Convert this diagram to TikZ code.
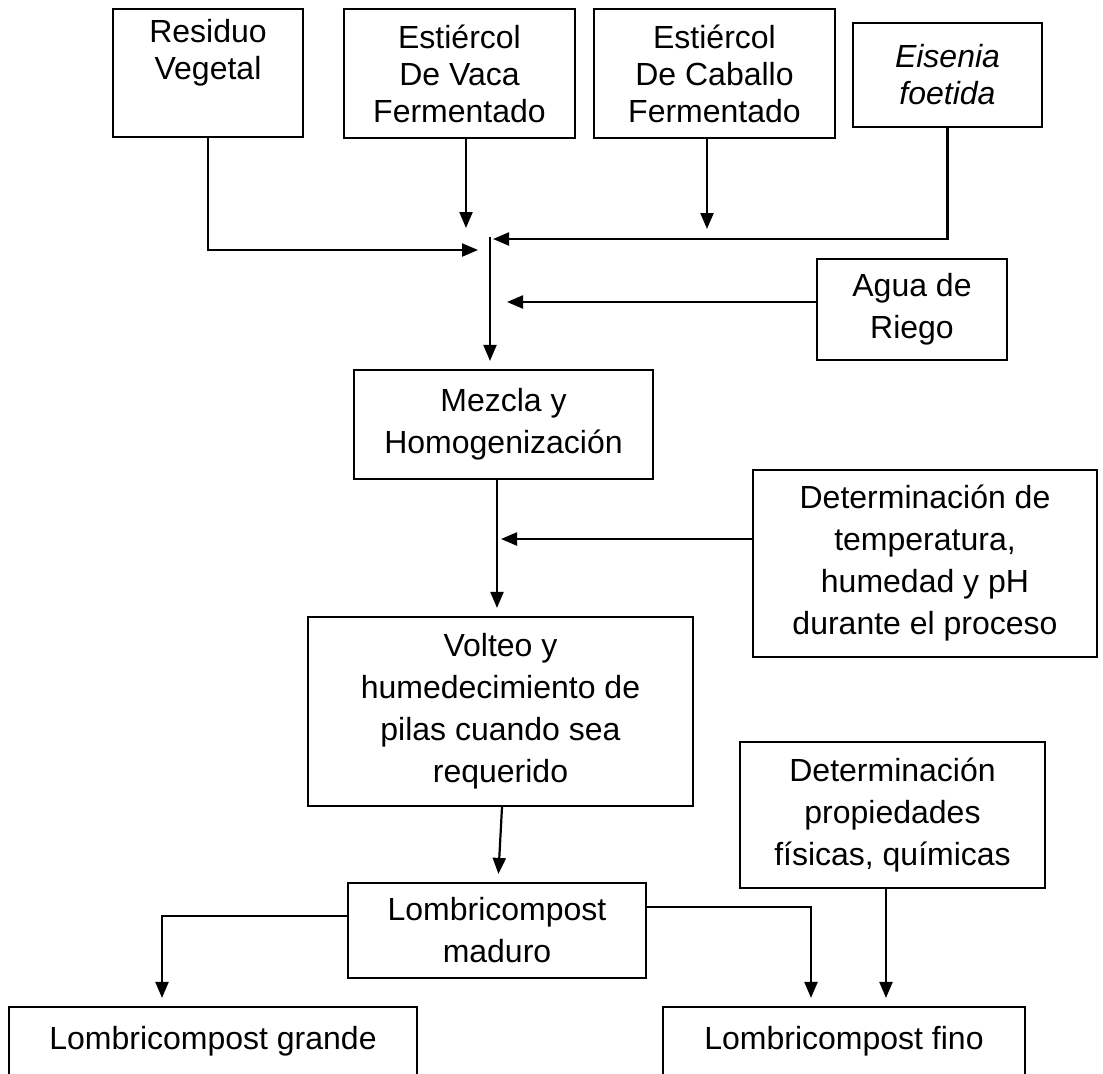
\documentclass[tikz,border=0pt]{standalone}
\usepackage{fontspec}
\setmainfont{Liberation Sans}
\usetikzlibrary{arrows.meta}
\begin{document}
\begin{tikzpicture}[x=0.5pt,y=-0.5pt,line join=miter,
  >={Triangle[length=8pt,width=6.5pt]},
  blk/.style={draw,line width=1.1pt,inner sep=0pt,align=center,
    font=\fontsize{16}{21}\selectfont},
  tight/.style={font=\fontsize{16}{18.5}\selectfont},
  conn/.style={->,line width=1.1pt,shorten >=4pt}]
  \useasboundingbox (0,0) rectangle (1103,1073);
  \clip (0,0) rectangle (1103,1073);
%%
  % Node: res
  \node[blk,tight,minimum width=95pt,minimum height=64pt] (res) at (208,73) {Residuo\\Vegetal\\\strut};
  % Node: vaca
  \node[blk,tight,minimum width=115.5pt,minimum height=64.5pt] (vaca) at (459.5,73.5) {Estiércol\\De Vaca\\Fermentado};
  % Node: cab
  \node[blk,tight,minimum width=120.5pt,minimum height=64.5pt] (cab) at (714.5,73.5) {Estiércol\\De Caballo\\Fermentado};
  % Node: eis
  \node[blk,tight,minimum width=94.5pt,minimum height=52pt] (eis) at (947.5,75) {\itshape Eisenia\\\itshape foetida};
  % Node: agua
  \node[blk,minimum width=95pt,minimum height=50.5pt] (agua) at (912,309.5) {Agua de\\Riego};
  % Node: mez
  \node[blk,minimum width=149.5pt,minimum height=54.5pt] (mez) at (503.5,424.5) {Mezcla y\\Homogenización};
  % Node: temp
  \node[blk,minimum width=172pt,minimum height=93.5pt] (temp) at (925,563.5) {Determinación de\\temperatura,\\humedad y pH\\durante el proceso};
  % Node: volt
  \node[blk,minimum width=192.5pt,minimum height=94.5pt] (volt) at (500.5,711.5) {Volteo y\\humedecimiento de\\pilas cuando sea\\requerido};
  % Node: prop
  \node[blk,minimum width=152.5pt,minimum height=73pt] (prop) at (892.5,815) {Determinación\\propiedades\\físicas, químicas};
  % Node: mad
  \node[blk,minimum width=149pt,minimum height=47.5pt] (mad) at (497,930.5) {Lombricompost\\maduro};
  % Node: gra
  \node[blk,minimum width=204pt,minimum height=34pt] (gra) at (213,1041) {Lombricompost grande};
  % Node: fino
  \node[blk,minimum width=181pt,minimum height=34pt] (fino) at (844,1041) {Lombricompost fino};
%%
  \coordinate (top) at (490,237);
  \coordinate (tipres) at (478,250);
  \coordinate (tipvaca) at (466,228);
  \coordinate (tipcab) at (707,229);
  \coordinate (tipeis) at (493,239);
  \coordinate (tipagua) at (507,302);
  \coordinate (tiptemp) at (501,539);
  % Edge: res -> top
  \draw[conn,shorten >=0pt] (res.south) |- (tipres);
  % Edge: vaca -> top
  \draw[conn,shorten >=0pt] (vaca.south -| tipvaca) -- (tipvaca);
  % Edge: cab -> top
  \draw[conn,shorten >=0pt] (cab.south -| tipcab) -- (tipcab);
  % Edge: eis -> top
  \draw[conn,shorten >=0pt] (eis.south) |- (tipeis);
  % Edge: top -> mez
  \draw[conn] (top) -- (top |- mez.north);
  % Edge: agua -> top
  \draw[conn,shorten >=0pt] (agua.west |- tipagua) -- (tipagua);
  % Edge: mez -> volt
  \draw[conn] (mez.south -| 497,0) -- (volt.north -| 497,0);
  % Edge: temp -> volt
  \draw[conn,shorten >=0pt] (temp.west |- tiptemp) -- (tiptemp);
  % Edge: volt -> mad
  \draw[conn] (volt.south -| 502,0) -- (mad.north -| 498,0);
  % Edge: mad -> gra
  \draw[conn] (mad.west |- 0,916) -| (gra.north -| 162,0);
  % Edge: mad -> fino
  \draw[conn] (mad.east |- 0,907) -| (fino.north -| 811,0);
  % Edge: prop -> fino
  \draw[conn] (prop.south -| 886,0) -- (fino.north -| 886,0);
%
\end{tikzpicture}
\end{document}
